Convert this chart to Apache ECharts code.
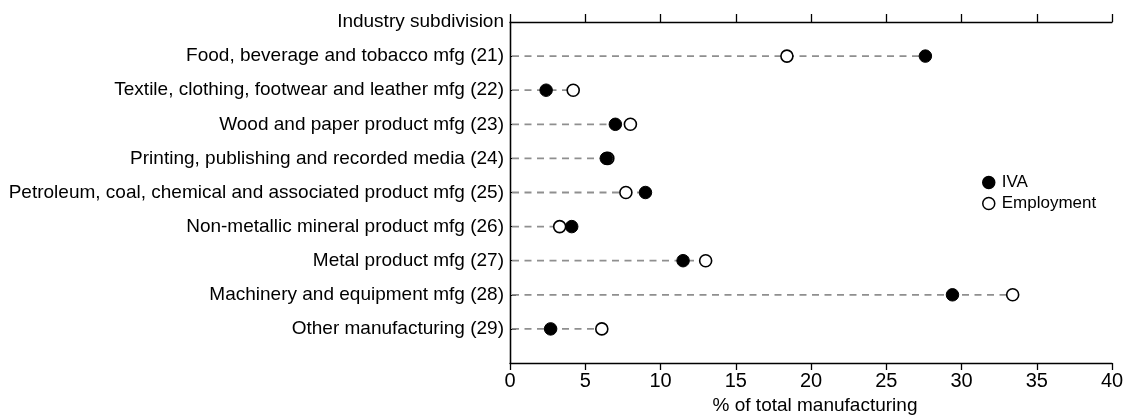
<!DOCTYPE html>
<html>
<head>
<meta charset="utf-8">
<script src="https://cdn.jsdelivr.net/npm/echarts@6/dist/echarts.min.js"></script>
<style>
html,body{margin:0;padding:0;background:#fff;overflow:hidden;}
#chart{width:1127px;height:416px;}
</style>
</head>
<body>
<div id="chart"></div>
<script>
var categories = [
  "Industry subdivision",
  "Food, beverage and tobacco mfg (21)",
  "Textile, clothing, footwear and leather mfg (22)",
  "Wood and paper product mfg (23)",
  "Printing, publishing and recorded media (24)",
  "Petroleum, coal, chemical and associated product mfg (25)",
  "Non-metallic mineral product mfg (26)",
  "Metal product mfg (27)",
  "Machinery and equipment mfg (28)",
  "Other manufacturing (29)",
  ""
];
var ivaValues =        [null, 27.6, 2.4, 7.0, 6.4, 9.0, 4.1, 11.5, 29.4, 2.7, null];
var employmentValues = [null, 18.4, 4.2, 8.0, 6.5, 7.7, 3.3, 13.0, 33.4, 6.1, null];
var xTicks = [0, 5, 10, 15, 20, 25, 30, 35, 40];

var FONT = "Liberation Sans";
var chart = echarts.init(document.getElementById('chart'), null, {renderer: 'canvas', width: 1127, height: 416});

var dashData = [];
for (var i = 0; i < categories.length; i++) {
  if (ivaValues[i] != null) {
    dashData.push([i, Math.max(ivaValues[i], employmentValues[i])]);
  }
}

chart.setOption({
  animation: false,
  backgroundColor: '#fff',
  textStyle: {fontFamily: FONT, color: '#000'},
  grid: {left: 510, width: 602, top: 22, height: 341, containLabel: false, outerBoundsMode: 'none'},
  legend: {
    orient: 'vertical',
    left: 977,
    top: 169,
    itemWidth: 12,
    itemHeight: 12,
    itemGap: 4,
    textStyle: {fontFamily: FONT, fontSize: 17, color: '#000', padding: [0, 0, 0, 2]},
    data: [
      {name: 'IVA', icon: 'circle', itemStyle: {color: '#000', borderColor: '#000', borderWidth: 1.5}},
      {name: 'Employment', icon: 'circle', itemStyle: {color: '#fff', borderColor: '#000', borderWidth: 1.5}}
    ]
  },
  xAxis: [{
    type: 'value',
    position: 'bottom',
    min: xTicks[0],
    max: xTicks[xTicks.length - 1],
    interval: 5,
    axisLine: {show: true, lineStyle: {color: '#000', width: 1.3}},
    axisTick: {show: true, length: 7, inside: false, lineStyle: {color: '#000', width: 1.3}},
    axisLabel: {fontFamily: FONT, fontSize: 20, color: '#000', margin: 8},
    splitLine: {show: false},
    name: '% of total manufacturing',
    nameLocation: 'middle',
    nameGap: 32,
    nameTextStyle: {fontFamily: FONT, fontSize: 19, color: '#000', padding: [0, 0, 0, 8]}
  }, {
    type: 'value',
    position: 'top',
    min: xTicks[0],
    max: xTicks[xTicks.length - 1],
    interval: 5,
    axisLine: {show: true, lineStyle: {color: '#000', width: 1.3}},
    axisTick: {show: true, length: 8, inside: false, lineStyle: {color: '#000', width: 1.3}},
    axisLabel: {show: false},
    splitLine: {show: false}
  }],
  yAxis: [{
    type: 'category',
    data: categories,
    inverse: true,
    boundaryGap: false,
    axisLine: {show: true, lineStyle: {color: '#000', width: 1.3}},
    axisTick: {show: true, inside: true, length: 6, lineStyle: {color: '#000', width: 1}},
    axisLabel: {fontFamily: FONT, fontSize: 19, color: '#000', margin: 6, interval: 0},
    splitLine: {show: false}
  }, {
    type: 'category',
    data: categories,
    inverse: true,
    boundaryGap: false,
    position: 'right',
    axisLine: {show: true, lineStyle: {color: '#000', width: 1.3}},
    axisTick: {show: false},
    axisLabel: {show: false},
    splitLine: {show: false}
  }],
  series: [{
    type: 'custom',
    name: 'dash',
    silent: true,
    z: 1,
    data: dashData,
    encode: {x: 1, y: 0},
    renderItem: function (params, api) {
      var cat = api.value(0);
      var v = api.value(1);
      var p0 = api.coord([0, cat]);
      var p1 = api.coord([v, cat]);
      return {
        type: 'line',
        shape: {x1: p0[0] + 2, y1: p0[1], x2: p1[0], y2: p1[1]},
        style: {stroke: '#8f8f8f', lineWidth: 1.8, lineDash: [7, 5.5]}
      };
    }
  }, {
    type: 'scatter',
    name: 'Employment',
    z: 3,
    symbol: 'circle',
    symbolSize: 12,
    itemStyle: {color: '#fff', borderColor: '#000', borderWidth: 1.6, opacity: 1},
    data: employmentValues.map(function (v, i) { return v == null ? null : [v, i]; }).filter(function (d) { return d; })
  }, {
    type: 'scatter',
    name: 'IVA',
    z: 4,
    symbol: 'circle',
    symbolSize: 12.5,
    itemStyle: {color: '#000', borderColor: '#000', borderWidth: 1, opacity: 1},
    data: ivaValues.map(function (v, i) { return v == null ? null : [v, i]; }).filter(function (d) { return d; })
  }]
});
</script>
</body>
</html>
